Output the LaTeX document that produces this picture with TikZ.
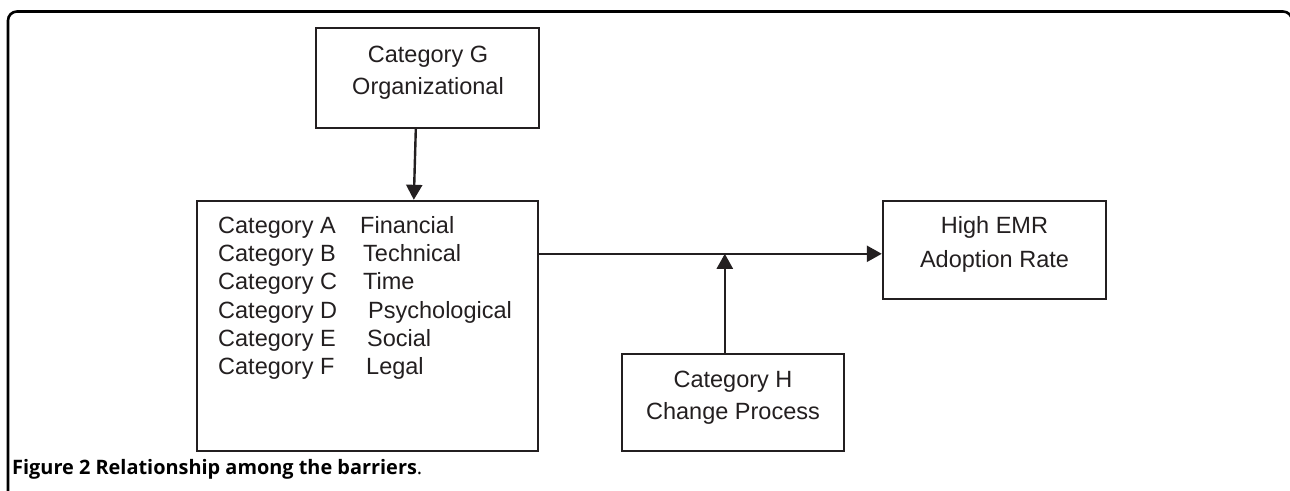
\documentclass[tikz,border=0pt]{standalone}
\usepackage{fontspec}
\setmainfont{Liberation Sans}
\newfontfamily\capfont{Open Sans}
\usetikzlibrary{arrows.meta,calc}
\definecolor{ink}{HTML}{231F20}
\begin{document}
\begin{tikzpicture}[x=1pt,y=-1pt,
  box/.style={draw=ink, line width=2.4pt, inner sep=0pt, fill=white},
  txt/.style={text=ink, inner sep=0pt, font=\fontsize{23.5}{28}\selectfont},
  arr/.style={draw=ink, line width=2.4pt, -{Triangle[width=16pt,length=15pt]}}]
\useasboundingbox (0,0) rectangle (1290,490);
\clip (0,0) rectangle (1290,490);
\fill[white] (0,0) rectangle (1290,490);
% frame
\draw[line width=2.6pt, rounded corners=9pt] (8,500) -- (8,11.5) -- (1292,11.5) -- (1292,500);
% boxes
\node[box, minimum width=223pt, minimum height=100pt] (G) at (427.5,78) {};
\node[box, minimum width=341pt, minimum height=250pt] (A) at (367.5,326) {};
\node[box, minimum width=223pt, minimum height=98pt] (E) at (994.5,250) {};
\node[box, minimum width=222pt, minimum height=97pt] (H) at (733,402.5) {};
% texts
\node[txt, anchor=base] (g1) at (428,62) {Category G};
\node[txt, anchor=base] (g2) at (428,94) {Organizational};
\node[txt, anchor=base] (e1) at (994.5,233) {High EMR};
\node[txt, anchor=base] (e2) at (994.5,267) {Adoption Rate};
\node[txt, anchor=base] (h1) at (733,387) {Category H};
\node[txt, anchor=base] (h2) at (733,419) {Change Process};
\node[txt, anchor=base west] (a1) at (218,233) {Category A};
\node[txt, anchor=base west] (a2) at (218,261) {Category B};
\node[txt, anchor=base west] (a3) at (218,289) {Category C};
\node[txt, anchor=base west] (a4) at (218,318) {Category D};
\node[txt, anchor=base west] (a5) at (218,346) {Category E};
\node[txt, anchor=base west] (a6) at (218,374) {Category F};
\node[txt, anchor=base west] (b1) at (360,233) {Financial};
\node[txt, anchor=base west] (b2) at (363,261) {Technical};
\node[txt, anchor=base west] (b3) at (363,289) {Time};
\node[txt, anchor=base west] (b4) at (368,318) {Psychological};
\node[txt, anchor=base west] (b5) at (367,346) {Social};
\node[txt, anchor=base west] (b6) at (366,374) {Legal};
% connectors
\draw[arr] ([xshift=101pt]G.south west) -- ([xshift=218pt]A.north west);
\coordinate (j) at ([yshift=-54pt]A.north east);
\draw[arr] (j) -- (j -| E.west);
\coordinate (hs) at ([xshift=104pt]H.north west);
\draw[arr] (hs) -- (hs |- j);
% caption
\node[anchor=base west, inner sep=0pt, text=black, font=\capfont\fontsize{19.9}{24}\selectfont] (cap) at (12,474) {\textbf{Figure 2 Relationship among the barriers}.};
\end{tikzpicture}
\end{document}
